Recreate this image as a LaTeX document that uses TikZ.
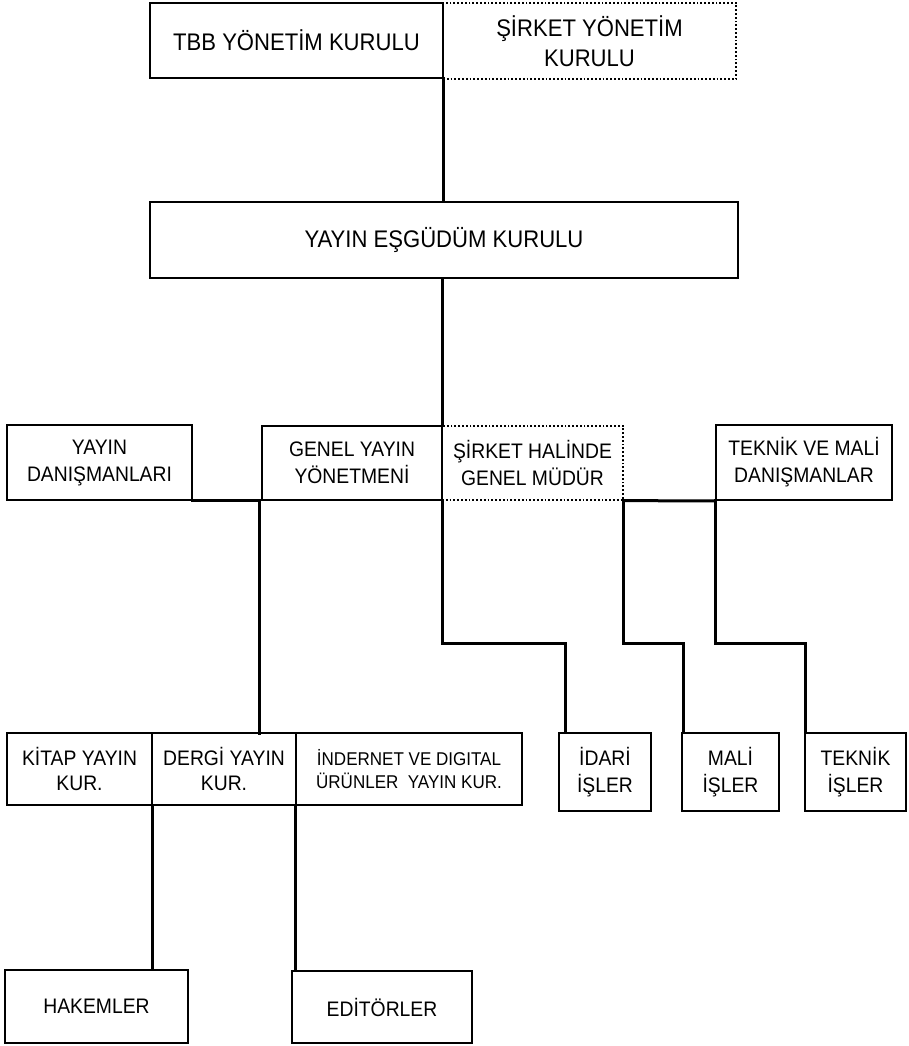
\documentclass[tikz,border=0pt]{standalone}
\usepackage{fontspec}
\setmainfont{Liberation Sans}[FakeStretch=0.92]
\usetikzlibrary{positioning,calc}

\begin{document}
\begin{tikzpicture}[x=1pt, y=-1pt,
    box/.style={draw, line width=1.8pt, inner sep=0pt, align=center, font=\fontsize{21}{27}\selectfont},
    dbox/.style={box, dotted, line width=1.3pt},
    topbox/.style={font=\fontsize{24}{30}\selectfont},
    conn/.style={line width=3pt, line cap=rect},
]
\useasboundingbox (0,0) rectangle (908,1046);

% top level
\node[dbox, topbox, minimum width=293pt, minimum height=76pt] (sirketyk) at (589.5,41) {ŞİRKET YÖNETİM\\KURULU};
\node[box, topbox, minimum width=293pt, minimum height=75pt] (tbb) at (296.5,40.5) {TBB YÖNETİM KURULU};
\node[box, topbox, minimum width=588pt, minimum height=76pt] (esgudum) at (444,240) {YAYIN EŞGÜDÜM KURULU};

% second level
\node[dbox, minimum width=181pt, minimum height=74pt] (genelmudur) at (532.5,463) {ŞİRKET HALİNDE\\GENEL MÜDÜR};
\node[box, minimum width=185pt, minimum height=75pt] (yayindan) at (99.5,462.5) {YAYIN\\DANIŞMANLARI};
\node[box, minimum width=180pt, minimum height=74pt] (genelyayin) at (352,463) {GENEL YAYIN\\YÖNETMENİ};
\node[box, minimum width=176pt, minimum height=75pt] (teknikdan) at (804,462.5) {TEKNİK VE MALİ\\DANIŞMANLAR};

% third level
\node[box, minimum width=145pt, minimum height=72pt, font=\fontsize{21}{25}\selectfont] (kitap) at (79.5,769) {KİTAP YAYIN\\KUR.};
\node[box, minimum width=144pt, minimum height=72pt, font=\fontsize{21}{25}\selectfont] (dergi) at (224,769) {DERGİ YAYIN\\KUR.};
\node[box, minimum width=226pt, minimum height=72pt, font=\fontsize{18.5}{23}\selectfont] (internet) at (409,769) {İNDERNET VE DIGITAL\\ÜRÜNLER~~YAYIN KUR.};
\node[box, minimum width=92pt, minimum height=78pt] (idari) at (605,772) {İDARİ\\İŞLER};
\node[box, minimum width=97pt, minimum height=78pt] (mali) at (730.5,772) {MALİ\\İŞLER};
\node[box, minimum width=101pt, minimum height=78pt] (teknik) at (855.5,772) {TEKNİK\\İŞLER};

% bottom level
\node[box, minimum width=183pt, minimum height=73pt] (hakem) at (96.5,1006.5) {HAKEMLER};
\node[box, minimum width=180pt, minimum height=72pt] (editor) at (382,1007) {EDİTÖRLER};

% connectors
\coordinate (dergiin) at (259,733);
\coordinate (idariin) at (565,643);
\coordinate (maliin) at (683,643);
\coordinate (teknikin) at (805,643);

\draw[conn] (tbb.south east) -- (tbb.south east |- esgudum.north);
\draw[conn] (genelyayin.north east |- esgudum.south) -- (genelyayin.north east);
\draw[conn] (yayindan.south east) -| (dergiin);
\draw[conn] (genelyayin.south east) |- (idariin) -- (idariin |- idari.north);
\draw[conn] (genelmudur.south east) -- (teknikdan.south west);
\draw[conn] (genelmudur.south east) |- (maliin) -- (maliin |- mali.north);
\draw[conn] (teknikdan.south west) |- (teknikin) -- (teknikin |- teknik.north);
\draw[conn] (kitap.south east) -- (kitap.south east |- hakem.north);
\draw[conn] (internet.south west) -- (internet.south west |- editor.north);
\end{tikzpicture}
\end{document}
